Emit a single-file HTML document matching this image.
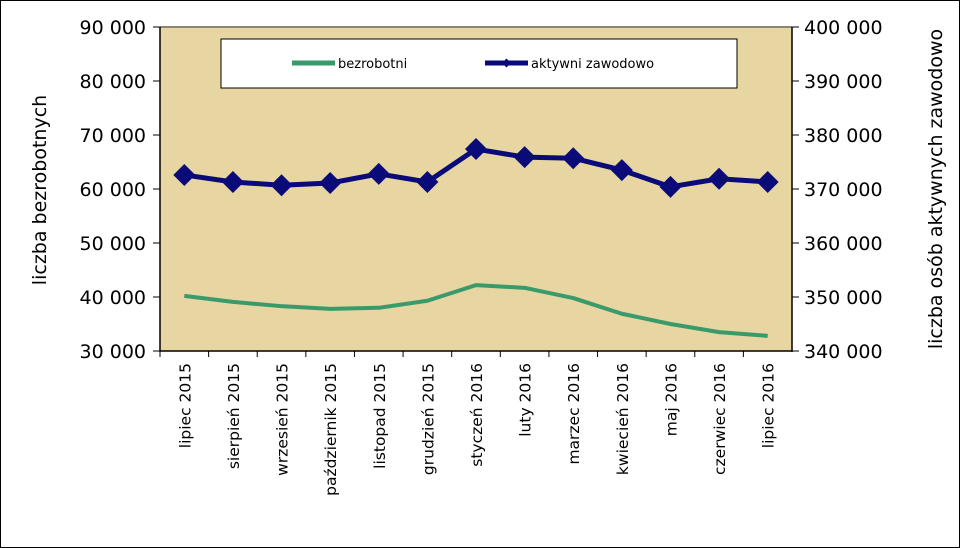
<!DOCTYPE html>
<html><head><meta charset="utf-8"><style>
body{margin:0;background:#fff;}
svg{display:block;font-family:"DejaVu Sans","Liberation Sans",sans-serif;}
</style></head><body>
<svg width="960" height="548" viewBox="0 0 960 548">
<rect x="0.5" y="0.5" width="959" height="547" fill="#fff" stroke="#000"/>
<rect x="160" y="27" width="632" height="324" fill="#e7d5a2"/>
<line x1="160" y1="27" x2="792" y2="27" stroke="#8a8570" stroke-width="2"/>
<g id="axes"></g>
<rect x="221" y="39" width="516" height="49" fill="#fff" stroke="#000"/>
<g>
<line x1="292" y1="63" x2="335" y2="63" stroke="#3a9a6a" stroke-width="5"/>
<text x="338" y="68" font-size="13">bezrobotni</text></g>
<g>
<line x1="485" y1="63" x2="528" y2="63" stroke="#0a0a78" stroke-width="5"/>
<path d="M506.5 58.5 L511 63 L506.5 67.5 L502 63Z" fill="#0a0a78"/>
<text x="531" y="68" font-size="13">aktywni zawodowo</text></g>
<g id="series"></g>
<text transform="translate(46,190) rotate(-90)" text-anchor="middle" font-size="19">liczba bezrobotnych</text>
<text transform="translate(942,189) rotate(-90)" text-anchor="middle" font-size="19">liczba osób aktywnych zawodowo</text>
</svg>
<script>
const categories=["lipiec 2015","sierpień 2015","wrzesień 2015","październik 2015","listopad 2015","grudzień 2015","styczeń 2016","luty 2016","marzec 2016","kwiecień 2016","maj 2016","czerwiec 2016","lipiec 2016"];
const bezrobotni=[40200,39100,38300,37800,38000,39300,42200,41700,39800,36900,35000,33500,32800];
const aktywni=[372600,371300,370700,371100,372800,371300,377400,375900,375700,373500,370400,371900,371300];
const leftTicks=[30000,40000,50000,60000,70000,80000,90000];
const rightTicks=[340000,350000,360000,370000,380000,390000,400000];
const NS="http://www.w3.org/2000/svg";
const X0=160,X1=792,Y0=351,Y1=27;
const bw=(X1-X0)/categories.length;
const xS=i=>X0+bw*(i+0.5);
const yL=v=>Y0-(v-30000)/60000*(Y0-Y1);
const yR=v=>Y0-(v-340000)/60000*(Y0-Y1);
const fmt=v=>String(v).replace(/\B(?=(\d{3})+$)/g," ");
function mk(t,a,p){const e=document.createElementNS(NS,t);for(const k in a)e.setAttribute(k,a[k]);p.appendChild(e);return e;}
const ax=document.getElementById('axes');
const sr=document.getElementById('series');
mk('line',{x1:X0,y1:Y1,x2:X0,y2:Y0+1,stroke:'#000','stroke-width':1.5},ax);
mk('line',{x1:X1,y1:Y1,x2:X1,y2:Y0+1,stroke:'#000','stroke-width':1.5},ax);
mk('line',{x1:X0,y1:Y0,x2:X1,y2:Y0,stroke:'#000','stroke-width':1.5},ax);
leftTicks.forEach(v=>{
 const y=yL(v);
 mk('line',{x1:X0-7,y1:y,x2:X0,y2:y,stroke:'#000'},ax);
 const t=mk('text',{x:X0-14,y:y+7,'text-anchor':'end','font-size':19},ax);
 t.textContent=fmt(v);
 
 
});
rightTicks.forEach(v=>{
 const y=yR(v);
 mk('line',{x1:X1,y1:y,x2:X1+7,y2:y,stroke:'#000'},ax);
 const t=mk('text',{x:X1+12,y:y+7,'font-size':19},ax);
 t.textContent=fmt(v);
 
 
});
categories.forEach((c,i)=>{
 const x=X0+bw*i;
 mk('line',{x1:x,y1:Y0,x2:x,y2:Y0+6,stroke:'#000'},ax);
 const t=mk('text',{transform:`translate(${xS(i)+6},${Y0+12}) rotate(-90)`,'text-anchor':'end','font-size':15.5},ax);
 t.textContent=c;
 
 
});
const p1=mk('polyline',{points:bezrobotni.map((v,i)=>xS(i)+','+yL(v)).join(' '),fill:'none',stroke:'#3a9a6a','stroke-width':4,'stroke-linejoin':'round'},sr);


const p2=mk('polyline',{points:aktywni.map((v,i)=>xS(i)+','+yR(v)).join(' '),fill:'none',stroke:'#0a0a78','stroke-width':5,'stroke-linejoin':'round'},sr);


aktywni.forEach((v,i)=>{
 const x=xS(i),y=yR(v),r=11;
 const m=mk('path',{d:`M${x} ${y-r}L${x+r} ${y}L${x} ${y+r}L${x-r} ${y}Z`,fill:'#0a0a78'},sr);
 
 
});
</script>
</body></html>
